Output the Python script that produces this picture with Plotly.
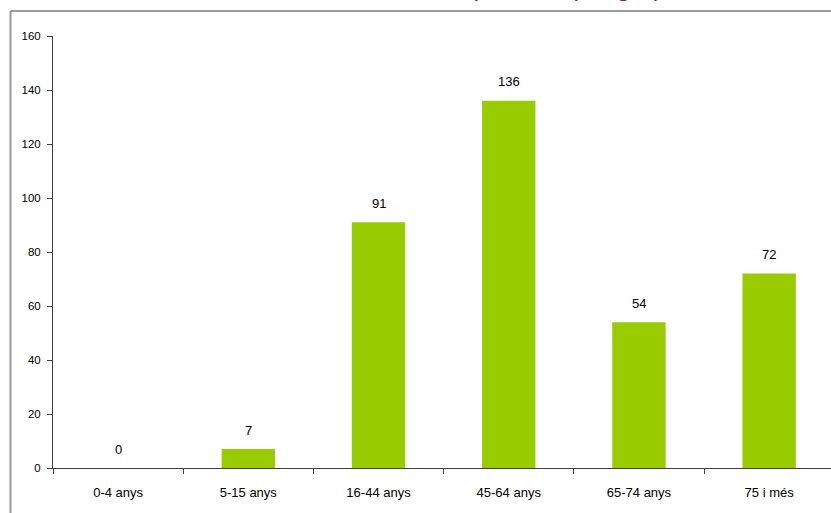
import plotly.graph_objects as go

categories = ["0-4 anys", "5-15 anys", "16-44 anys", "45-64 anys", "65-74 anys", "75 i més"]
values = [0, 7, 91, 136, 54, 72]
y_ticks = [0, 20, 40, 60, 80, 100, 120, 140, 160]
title_text = "Distribució de pacients per grup d'edat"

FONT = "Liberation Sans, Arial, sans-serif"

W, H = 831, 513
ml, mr, mt, mb = 53, 0, 36, H - 468
pw = W - ml - mr
ph = H - mt - mb

def px_x(x):
    return (x - ml) / pw

def px_y(y):
    return 1 + (mt - y) / ph

fig = go.Figure()
fig.add_trace(go.Bar(
    x=categories, y=values,
    marker=dict(color="#99CC00", line=dict(width=0)),
    width=0.41,
    hoverinfo="x+y",
))

for c, v in zip(categories, values):
    fig.add_annotation(x=c, y=v, xref="x", yref="y", text=str(v),
                       showarrow=False, yanchor="middle", yshift=19,
                       font=dict(family=FONT, size=13, color="#000000"))

# partially visible title (clipped at top of the image)
fig.add_annotation(x=px_x(528), y=px_y(3), xref="paper", yref="paper",
                   text=title_text, showarrow=False,
                   xanchor="center", yanchor="bottom",
                   font=dict(family=FONT, size=25, color="#9B1B1B"))

# chart-area frame (gray border)
fig.add_shape(type="line", xref="paper", yref="paper",
              x0=px_x(10.5), x1=px_x(10.5), y0=px_y(530), y1=px_y(11),
              line=dict(color="#9a9a9a", width=2))
fig.add_shape(type="line", xref="paper", yref="paper",
              x0=px_x(10.5), x1=px_x(845), y0=px_y(11), y1=px_y(11),
              line=dict(color="#9a9a9a", width=2))

fig.update_layout(
    width=W, height=H,
    margin=dict(l=ml, r=mr, t=mt, b=mb, pad=0),
    paper_bgcolor="white", plot_bgcolor="white",
    showlegend=False,
    font=dict(family=FONT, size=12, color="#000000"),
    xaxis=dict(
        type="category",
        range=[-0.5, 5.475],
        showline=True, linecolor="#404040", linewidth=1,
        ticks="outside", ticklen=5, tickcolor="#404040",
        tickson="boundaries",
        showgrid=False, zeroline=False,
        tickfont=dict(family=FONT, size=13),
        ticklabelstandoff=12,
    ),
    yaxis=dict(
        range=[0, 160],
        tickvals=y_ticks,
        showline=True, linecolor="#404040", linewidth=1,
        ticks="outside", ticklen=5, tickcolor="#404040",
        showgrid=False, zeroline=False,
        tickfont=dict(family=FONT, size=11.5),
        ticklabelstandoff=4,
    ),
    bargap=0.59,
)

fig.write_html(
    "out.html",
    config={"displayModeBar": False},
    post_script="document.body.style.margin='0';document.body.style.overflow='hidden';",
)
